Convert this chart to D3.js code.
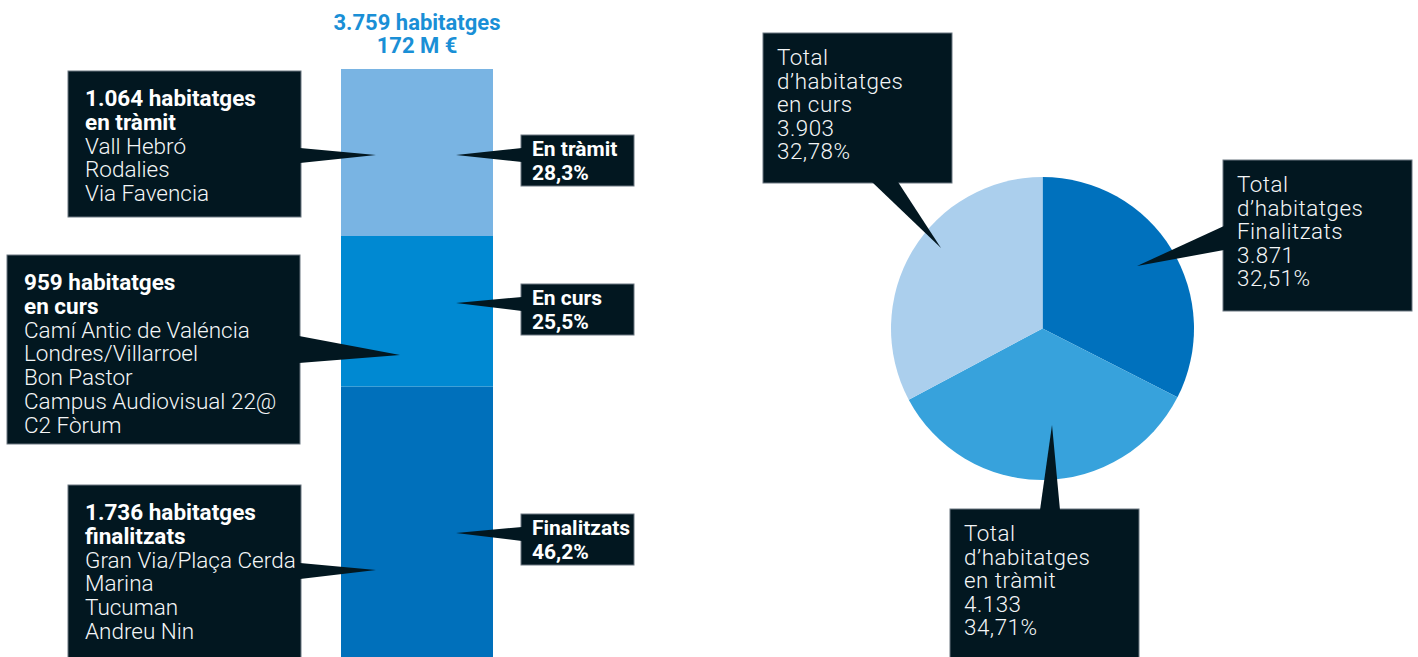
<!DOCTYPE html>
<html>
<head>
<meta charset="utf-8">
<script src="https://cdn.jsdelivr.net/npm/d3@7/dist/d3.min.js"></script>
<style>
  html, body { margin: 0; padding: 0; background: #fff; }
  svg { display: block; }
  text { font-family: "Roboto", "Liberation Sans", sans-serif; }
</style>
</head>
<body>
<svg id="chart" width="1418" height="657"></svg>
<script>
// ---- Stacked bar: housing by status (top to bottom) ----
const barStatus = ["En tràmit", "En curs", "Finalitzats"];
const barStatusLower = ["en tràmit", "en curs", "finalitzats"];
const barCounts = [1064, 959, 1736];
const barBudget = "172 M €";
const barProjects = [
  ["Vall Hebró", "Rodalies", "Via Favencia"],
  ["Camí Antic de Valéncia", "Londres/Villarroel", "Bon Pastor", "Campus Audiovisual 22@", "C2 Fòrum"],
  ["Gran Via/Plaça Cerda", "Marina", "Tucuman", "Andreu Nin"]
];
const barColors = ["#79b4e3", "#0089d2", "#0070bb"];

// ---- Pie: totals by status (clockwise from 12 o'clock) ----
const pieStatus = ["Finalitzats", "en tràmit", "en curs"];
const pieCounts = [3871, 4133, 3903];
const pieColors = ["#0071bd", "#37a2dc", "#abcfed"];

const ca = d3.formatLocale({ decimal: ",", thousands: ".", grouping: [3], currency: ["", " €"] });
const fmtInt = ca.format(",d");
const fmtPct1 = ca.format(".1f");
const fmtPct2 = ca.format(".2f");

const svg = d3.select("#chart");
const BOX = "#021720";
const BOX_EDGE = "#6b7780";

// Callout: dark box with a triangular pointer
function callout(g, box, ptr) {
  g.append("rect")
    .attr("x", box.x).attr("y", box.y).attr("width", box.w).attr("height", box.h)
    .attr("fill", BOX).attr("stroke", BOX_EDGE).attr("stroke-width", 1);
  g.append("path")
    .attr("d", d3.line()(ptr) + "Z")
    .attr("fill", BOX);
}

// One multi-line text block; bold lines and light lines as tspans
function textBlock(g, x, y0, step, lines, opt) {
  const t = g.append("text").attr("x", x).attr("y", y0)
    .attr("letter-spacing", opt.spacing || 0);
  lines.forEach((l, i) => {
    t.append("tspan")
      .attr("x", x)
      .attr("y", y0 + i * step)
      .attr("font-weight", l.bold ? 700 : 300)
      .attr("font-size", l.bold ? opt.boldSize : opt.lightSize)
      .attr("fill", l.bold ? "#ffffff" : "#f4f6f7")
      .text(l.t);
  });
  return t;
}

// ---------- Bar ----------
const total = d3.sum(barCounts);
const barX = d3.scaleBand().domain(["total"]).range([341, 493]).padding(0);
const barY = d3.scaleLinear().domain([0, total]).range([659, 69]);

// stack from the bottom: finished first
const keysBottomUp = barStatus.slice().reverse();
const stackData = [Object.fromEntries(barStatus.map((s, i) => [s, barCounts[i]]))];
const stack = d3.stack().keys(keysBottomUp)(stackData);

svg.append("g").selectAll("rect")
  .data(stack)
  .join("rect")
  .attr("x", barX("total"))
  .attr("width", barX.bandwidth())
  .attr("y", d => barY(d[0][1]))
  .attr("height", d => barY(d[0][0]) - barY(d[0][1]))
  .attr("fill", d => barColors[barStatus.indexOf(d.key)]);

const cx = barX("total") + barX.bandwidth() / 2;
const title = svg.append("text").attr("text-anchor", "middle")
  .attr("font-weight", 700).attr("font-size", 22).attr("fill", "#1a8fd6");
title.append("tspan").attr("x", cx).attr("y", 30).text(fmtInt(total) + " habitatges");
title.append("tspan").attr("x", cx).attr("y", 53).text(barBudget);

// Left callouts (detail per status)
const leftBoxes = [
  { x: 68, y: 71, w: 233, h: 146, py: [148, 163], tip: [376, 155] },
  { x: 7, y: 255, w: 293, h: 189, py: [336, 363], tip: [400, 355] },
  { x: 68, y: 485, w: 233, h: 180, py: [563, 579], tip: [376, 570] }
];
leftBoxes.forEach((b, i) => {
  const g = svg.append("g");
  const right = b.x + b.w;
  callout(g, b, [[right - 1, b.py[0]], b.tip, [right - 1, b.py[1]]]);
  const lines = [
    { t: fmtInt(barCounts[i]) + " habitatges", bold: true },
    { t: barStatusLower[i], bold: true },
    ...barProjects[i].map(t => ({ t, bold: false }))
  ];
  textBlock(g, b.x + 17, b.y + 35, 23.8, lines, { boldSize: 22.5, lightSize: 22.5 });
});

// Right callouts (share per status)
const rightTips = [155, 303, 533];
const rightTops = [135, 284, 514];
rightTops.forEach((top, i) => {
  const g = svg.append("g");
  const b = { x: 521, y: top, w: 113, h: 51 };
  callout(g, b, [[b.x + 1, top + 13], [456, rightTips[i]], [b.x + 1, top + 27]]);
  textBlock(g, b.x + 11, top + 21, 24, [
    { t: barStatus[i], bold: true },
    { t: fmtPct1(barCounts[i] / total * 100) + "%", bold: true }
  ], { boldSize: 21 });
});

// ---------- Pie ----------
const pc = [1042.5, 328.5];
const R = 151.5;
const pieTotal = d3.sum(pieCounts);
const arcs = d3.pie().sort(null)(pieCounts);
const arc = d3.arc().innerRadius(0).outerRadius(R);

svg.append("g").attr("transform", `translate(${pc[0]},${pc[1]})`)
  .selectAll("path")
  .data(arcs)
  .join("path")
  .attr("d", arc)
  .attr("fill", (d, i) => pieColors[i]);

const pieBoxes = [
  { x: 1223, y: 160, w: 189, h: 151, ptr: [[1224, 226], [1137, 266], [1224, 250]] },
  { x: 950, y: 509, w: 189, h: 160, ptr: [[1040, 510], [1052, 425], [1060, 510]] },
  { x: 763, y: 33, w: 189, h: 150, ptr: [[872, 182], [941, 248], [898, 182]] }
];
pieBoxes.forEach((b, i) => {
  const g = svg.append("g");
  callout(g, b, b.ptr);
  textBlock(g, b.x + 14, b.y + 32, 23.5, [
    { t: "Total", bold: false },
    { t: "d’habitatges", bold: false },
    { t: pieStatus[i], bold: false },
    { t: fmtInt(pieCounts[i]), bold: false },
    { t: fmtPct2(pieCounts[i] / pieTotal * 100) + "%", bold: false }
  ], { lightSize: 22.4, spacing: 0.5 });
});
</script>
</body>
</html>
